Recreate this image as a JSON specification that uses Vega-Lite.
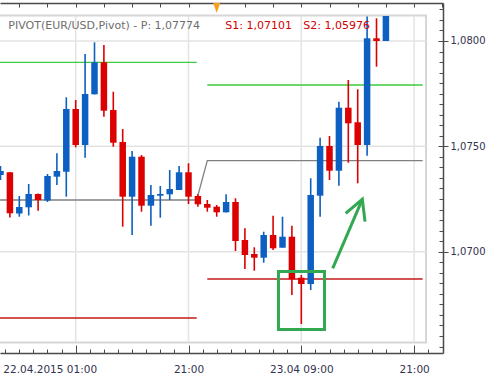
{
  "$schema": "https://vega.github.io/schema/vega-lite/v6.json",
  "width": 443,
  "height": 350,
  "autosize": {"type": "none"},
  "padding": {"left": 0, "top": 3, "right": 45, "bottom": 23},
  "background": "white",
  "config": {"view": {"stroke": null}, "font": "DejaVu Sans"},
  "datasets": {
    "frame": [{"x1": -0.5, "x2": 45.27, "y1": 1.065691, "y2": 1.08121}],
    "vgrid": [{"gx": 8}, {"gx": 20}, {"gx": 32}, {"gx": 44}],
    "hgrid": [{"gy": 1.07}, {"gy": 1.075}, {"gy": 1.08}],
    "green": [
      {"s": "a", "k": -0.06, "p": 1.078989}, {"s": "a", "k": 20.87, "p": 1.078989},
      {"s": "b", "k": 22.0, "p": 1.077912}, {"s": "b", "k": 44.91, "p": 1.077912}
    ],
    "gray": [
      {"k": -0.06, "p": 1.072454}, {"k": 20.87, "p": 1.072454},
      {"k": 22.0, "p": 1.074319}, {"k": 44.91, "p": 1.074319}
    ],
    "red": [
      {"s": "a", "k": -0.06, "p": 1.066854}, {"s": "a", "k": 20.87, "p": 1.066854},
      {"s": "b", "k": 22.0, "p": 1.068705}, {"s": "b", "k": 44.91, "p": 1.068705}
    ],
    "candles": [
      {"k": 0, "o": 1.07364, "h": 1.074067, "l": 1.073403, "c": 1.07383, "d": "up"},
      {"k": 1, "o": 1.073769, "h": 1.073783, "l": 1.071623, "c": 1.071823, "d": "down"},
      {"k": 2, "o": 1.071813, "h": 1.072644, "l": 1.071661, "c": 1.072122, "d": "up"},
      {"k": 3, "o": 1.072107, "h": 1.073213, "l": 1.071718, "c": 1.072739, "d": "up"},
      {"k": 4, "o": 1.072739, "h": 1.072762, "l": 1.071946, "c": 1.072454, "d": "down"},
      {"k": 5, "o": 1.07243, "h": 1.073688, "l": 1.072359, "c": 1.073593, "d": "up"},
      {"k": 6, "o": 1.07356, "h": 1.07467, "l": 1.073166, "c": 1.07383, "d": "up"},
      {"k": 7, "o": 1.073797, "h": 1.077328, "l": 1.07261, "c": 1.076773, "d": "up"},
      {"k": 8, "o": 1.076773, "h": 1.0772, "l": 1.074955, "c": 1.075064, "d": "down"},
      {"k": 9, "o": 1.075064, "h": 1.079383, "l": 1.074461, "c": 1.077485, "d": "up"},
      {"k": 10, "o": 1.07747, "h": 1.079938, "l": 1.07746, "c": 1.078989, "d": "up"},
      {"k": 11, "o": 1.078989, "h": 1.07981, "l": 1.076407, "c": 1.076692, "d": "down"},
      {"k": 12, "o": 1.076725, "h": 1.077594, "l": 1.074983, "c": 1.075173, "d": "down"},
      {"k": 13, "o": 1.075207, "h": 1.075824, "l": 1.071187, "c": 1.07261, "d": "down"},
      {"k": 14, "o": 1.07261, "h": 1.074779, "l": 1.070793, "c": 1.074509, "d": "up"},
      {"k": 15, "o": 1.074509, "h": 1.07459, "l": 1.071899, "c": 1.072183, "d": "down"},
      {"k": 16, "o": 1.072183, "h": 1.073166, "l": 1.071234, "c": 1.072691, "d": "up"},
      {"k": 17, "o": 1.072658, "h": 1.073118, "l": 1.071614, "c": 1.072739, "d": "up"},
      {"k": 18, "o": 1.072724, "h": 1.073878, "l": 1.072454, "c": 1.072976, "d": "up"},
      {"k": 19, "o": 1.072928, "h": 1.074067, "l": 1.072928, "c": 1.073769, "d": "up"},
      {"k": 20, "o": 1.073769, "h": 1.074196, "l": 1.072264, "c": 1.07261, "d": "down"},
      {"k": 21, "o": 1.072644, "h": 1.072724, "l": 1.072136, "c": 1.07225, "d": "down"},
      {"k": 22, "o": 1.072264, "h": 1.072454, "l": 1.071899, "c": 1.072088, "d": "down"},
      {"k": 23, "o": 1.072136, "h": 1.072217, "l": 1.071661, "c": 1.07187, "d": "down"},
      {"k": 24, "o": 1.07187, "h": 1.072724, "l": 1.07186, "c": 1.072359, "d": "up"},
      {"k": 25, "o": 1.072359, "h": 1.072535, "l": 1.070033, "c": 1.070508, "d": "down"},
      {"k": 26, "o": 1.070555, "h": 1.071111, "l": 1.069179, "c": 1.069844, "d": "down"},
      {"k": 27, "o": 1.069891, "h": 1.070209, "l": 1.069098, "c": 1.069715, "d": "down"},
      {"k": 28, "o": 1.069715, "h": 1.070949, "l": 1.069478, "c": 1.070793, "d": "up"},
      {"k": 29, "o": 1.070793, "h": 1.071709, "l": 1.070081, "c": 1.070162, "d": "down"},
      {"k": 30, "o": 1.07019, "h": 1.071661, "l": 1.07019, "c": 1.070712, "d": "up"},
      {"k": 31, "o": 1.070712, "h": 1.071234, "l": 1.067945, "c": 1.06869, "d": "down"},
      {"k": 32, "o": 1.068766, "h": 1.068894, "l": 1.066569, "c": 1.068467, "d": "down"},
      {"k": 33, "o": 1.068467, "h": 1.073484, "l": 1.068182, "c": 1.072691, "d": "up"},
      {"k": 34, "o": 1.072658, "h": 1.075411, "l": 1.071661, "c": 1.075017, "d": "up"},
      {"k": 35, "o": 1.075017, "h": 1.075491, "l": 1.073403, "c": 1.073844, "d": "down"},
      {"k": 36, "o": 1.073844, "h": 1.077119, "l": 1.073133, "c": 1.076834, "d": "up"},
      {"k": 37, "o": 1.076834, "h": 1.078149, "l": 1.074224, "c": 1.076094, "d": "down"},
      {"k": 38, "o": 1.076142, "h": 1.077708, "l": 1.073246, "c": 1.075064, "d": "down"},
      {"k": 39, "o": 1.075064, "h": 1.081163, "l": 1.074556, "c": 1.080128, "d": "up"},
      {"k": 40, "o": 1.080128, "h": 1.081077, "l": 1.07878, "c": 1.08, "d": "down"},
      {"k": 41, "o": 1.08, "h": 1.081187, "l": 1.08, "c": 1.081187, "d": "up"}
    ],
    "box": [{"k1": 29.57, "k2": 34.47, "p1": 1.066308, "p2": 1.06906}],
    "arrow": [
      {"s": "shaft", "o": 1, "k": 35.34, "p": 1.069212},
      {"s": "shaft", "o": 2, "k": 38.49, "p": 1.072487},
      {"s": "head", "o": 1, "k": 36.72, "p": 1.071823},
      {"s": "head", "o": 2, "k": 38.49, "p": 1.072487},
      {"s": "head", "o": 3, "k": 38.78, "p": 1.071424}
    ],
    "marker": [{"k": 23, "p": 1.081566}],
    "hdr1": [{"k": 0.83, "p": 1.08057, "t": "PIVOT(EUR/USD,Pivot) -  P: 1,07774"}],
    "hdr2": [{"k": 23.91, "p": 1.08057, "t": "S1: 1,07101"}, {"k": 32.21, "p": 1.08057, "t": "S2: 1,05976"}]
  },
  "resolve": {"axis": {"x": "independent", "y": "independent"}},
  "layer": [
    {
      "data": {"name": "frame"},
      "mark": {"type": "rect", "fill": "white", "stroke": "#d6d6d6", "strokeWidth": 2},
      "encoding": {
        "x": {"field": "x1", "type": "quantitative", "axis": null, "scale": {"domain": [-0.053, 47.074], "nice": false, "zero": false, "padding": 0}},
        "x2": {"field": "x2"},
        "y": {"field": "y1", "type": "quantitative", "axis": null, "scale": {"domain": [1.065192, 1.0818035], "nice": false, "zero": false, "padding": 0}},
        "y2": {"field": "y2"}
      }
    },
    {
      "data": {"name": "vgrid"},
      "mark": {"type": "rule", "color": "#e3e3e3", "strokeWidth": 1.5},
      "encoding": {
        "x": {"field": "gx", "type": "quantitative", "axis": {
          "orient": "bottom", "values": [8, 20, 32, 44], "ticks": false, "grid": false,
          "domain": true, "domainColor": "#4a4a4a", "domainWidth": 1.5,
          "labelExpr": "datum.value == 8 ? '22.04.2015 01:00' : datum.value == 20 ? '21:00' : datum.value == 32 ? '23.04 09:00' : '21:00'",
          "labelFont": "DejaVu Sans", "labelFontSize": 10.5, "labelColor": "#333350", "labelPadding": 11,
          "labelOverlap": false,
          "labelOffset": {"condition": {"test": "datum.value == 8", "value": -26}, "value": 0},
          "title": null}},
        "y": {"datum": 1.065691, "type": "quantitative", "axis": null},
        "y2": {"datum": 1.08121}
      }
    },
    {
      "data": {"name": "hgrid"},
      "mark": {"type": "rule", "color": "#e3e3e3", "strokeWidth": 1.5},
      "encoding": {
        "y": {"field": "gy", "type": "quantitative", "axis": {
          "orient": "right", "values": [1.07, 1.075, 1.08], "tickSize": 5, "tickColor": "#4a4a4a", "tickWidth": 1,
          "grid": false, "domain": true, "domainColor": "#4a4a4a", "domainWidth": 1.5,
          "labelExpr": "replace(format(datum.value, '.4f'), '.', ',')",
          "labelFont": "DejaVu Sans", "labelFontSize": 10, "labelColor": "#333350", "labelPadding": 2,
          "title": null}},
        "x": {"datum": -0.5, "type": "quantitative", "axis": null},
        "x2": {"datum": 45.27}
      }
    },
    {
      "data": {"name": "green"},
      "mark": {"type": "line", "color": "#3ccc3c", "strokeWidth": 1.3},
      "encoding": {
        "x": {"field": "k", "type": "quantitative", "axis": {
          "orient": "bottom", "values": [8, 20, 32, 44], "tickSize": -8, "tickColor": "#4a4a4a", "tickWidth": 1,
          "labels": false, "domain": false, "grid": false, "title": null}},
        "y": {"field": "p", "type": "quantitative", "axis": {
          "orient": "right", "values": [1.07, 1.075, 1.08], "tickSize": -5, "tickColor": "#4a4a4a", "tickWidth": 1,
          "labels": false, "domain": false, "grid": false, "title": null}},
        "detail": {"field": "s"}
      }
    },
    {
      "data": {"name": "gray"},
      "mark": {"type": "line", "color": "#808080", "strokeWidth": 1.3},
      "encoding": {
        "x": {"field": "k", "type": "quantitative", "axis": null},
        "y": {"field": "p", "type": "quantitative", "axis": null}
      }
    },
    {
      "data": {"name": "red"},
      "mark": {"type": "line", "color": "#c41a1a", "strokeWidth": 1.3},
      "encoding": {
        "x": {"field": "k", "type": "quantitative", "axis": null},
        "y": {"field": "p", "type": "quantitative", "axis": null},
        "detail": {"field": "s"}
      }
    },
    {
      "data": {"name": "candles"},
      "mark": {"type": "rule", "strokeWidth": 1.6},
      "encoding": {
        "x": {"field": "k", "type": "quantitative", "axis": {
          "orient": "bottom", "values": [0.5, 2, 3.5, 5, 6.5, 8, 9.5, 11, 12.5, 14, 15.5, 17, 18.5, 20, 21.5, 23, 24.5, 26, 27.5, 29, 30.5, 32, 33.5, 35, 36.5, 38, 39.5, 41, 42.5, 44, 45.5],
          "tickSize": -4, "tickColor": "#4a4a4a", "tickWidth": 1, "labels": false, "domain": false, "grid": false, "title": null}},
        "y": {"field": "l", "type": "quantitative", "axis": {
          "orient": "right", "values": [1.0655, 1.066, 1.0665, 1.067, 1.0675, 1.068, 1.0685, 1.069, 1.0695, 1.07, 1.0705, 1.071, 1.0715, 1.072, 1.0725, 1.073, 1.0735, 1.074, 1.0745, 1.075, 1.0755, 1.076, 1.0765, 1.077, 1.0775, 1.078, 1.0785, 1.079, 1.0795, 1.08, 1.0805, 1.081, 1.0815],
          "tickSize": -4, "tickColor": "#4a4a4a", "tickWidth": 1, "labels": false, "domain": false, "grid": false, "title": null}},
        "y2": {"field": "h"},
        "color": {"field": "d", "type": "nominal", "legend": null, "scale": {"domain": ["up", "down"], "range": ["#0d5fc2", "#dc0000"]}}
      }
    },
    {
      "data": {"name": "candles"},
      "mark": {"type": "bar", "size": 6.5},
      "encoding": {
        "x": {"field": "k", "type": "quantitative", "axis": {
          "orient": "top", "values": [2, 5, 8, 11, 14, 17, 20, 23, 26, 29, 32, 35, 38, 41, 44, 47],
          "tickSize": -4, "tickColor": "#4a4a4a", "tickWidth": 1, "labels": false,
          "domain": true, "domainColor": "#4a4a4a", "domainWidth": 1.5, "grid": false, "title": null}},
        "y": {"field": "o", "type": "quantitative", "axis": null},
        "y2": {"field": "c"},
        "color": {"field": "d", "type": "nominal", "legend": null}
      }
    },
    {
      "data": {"name": "box"},
      "mark": {"type": "rect", "fill": null, "fillOpacity": 0, "stroke": "#33a852", "strokeWidth": 3},
      "encoding": {
        "x": {"field": "k1", "type": "quantitative", "axis": null},
        "x2": {"field": "k2"},
        "y": {"field": "p1", "type": "quantitative", "axis": null},
        "y2": {"field": "p2"}
      }
    },
    {
      "data": {"name": "arrow"},
      "mark": {"type": "line", "color": "#33a852", "strokeWidth": 3, "strokeJoin": "miter"},
      "encoding": {
        "x": {"field": "k", "type": "quantitative", "axis": null},
        "y": {"field": "p", "type": "quantitative", "axis": null},
        "detail": {"field": "s"},
        "order": {"field": "o"}
      }
    },
    {
      "data": {"name": "marker"},
      "mark": {"type": "point", "shape": "M-0.7,-1L0.7,-1L0,1Z", "size": 100, "filled": true, "color": "#f5a01c", "opacity": 1},
      "encoding": {
        "x": {"field": "k", "type": "quantitative", "axis": null},
        "y": {"field": "p", "type": "quantitative", "axis": null}
      }
    },
    {
      "data": {"name": "hdr1"},
      "mark": {"type": "text", "align": "left", "baseline": "alphabetic", "font": "DejaVu Sans", "fontSize": 11, "color": "#6e6e6e"},
      "encoding": {
        "x": {"field": "k", "type": "quantitative", "axis": null},
        "y": {"field": "p", "type": "quantitative", "axis": null},
        "text": {"field": "t"}
      }
    },
    {
      "data": {"name": "hdr2"},
      "mark": {"type": "text", "align": "left", "baseline": "alphabetic", "font": "DejaVu Sans", "fontSize": 11, "color": "#d00000"},
      "encoding": {
        "x": {"field": "k", "type": "quantitative", "axis": null},
        "y": {"field": "p", "type": "quantitative", "axis": null},
        "text": {"field": "t"}
      }
    }
  ]
}
